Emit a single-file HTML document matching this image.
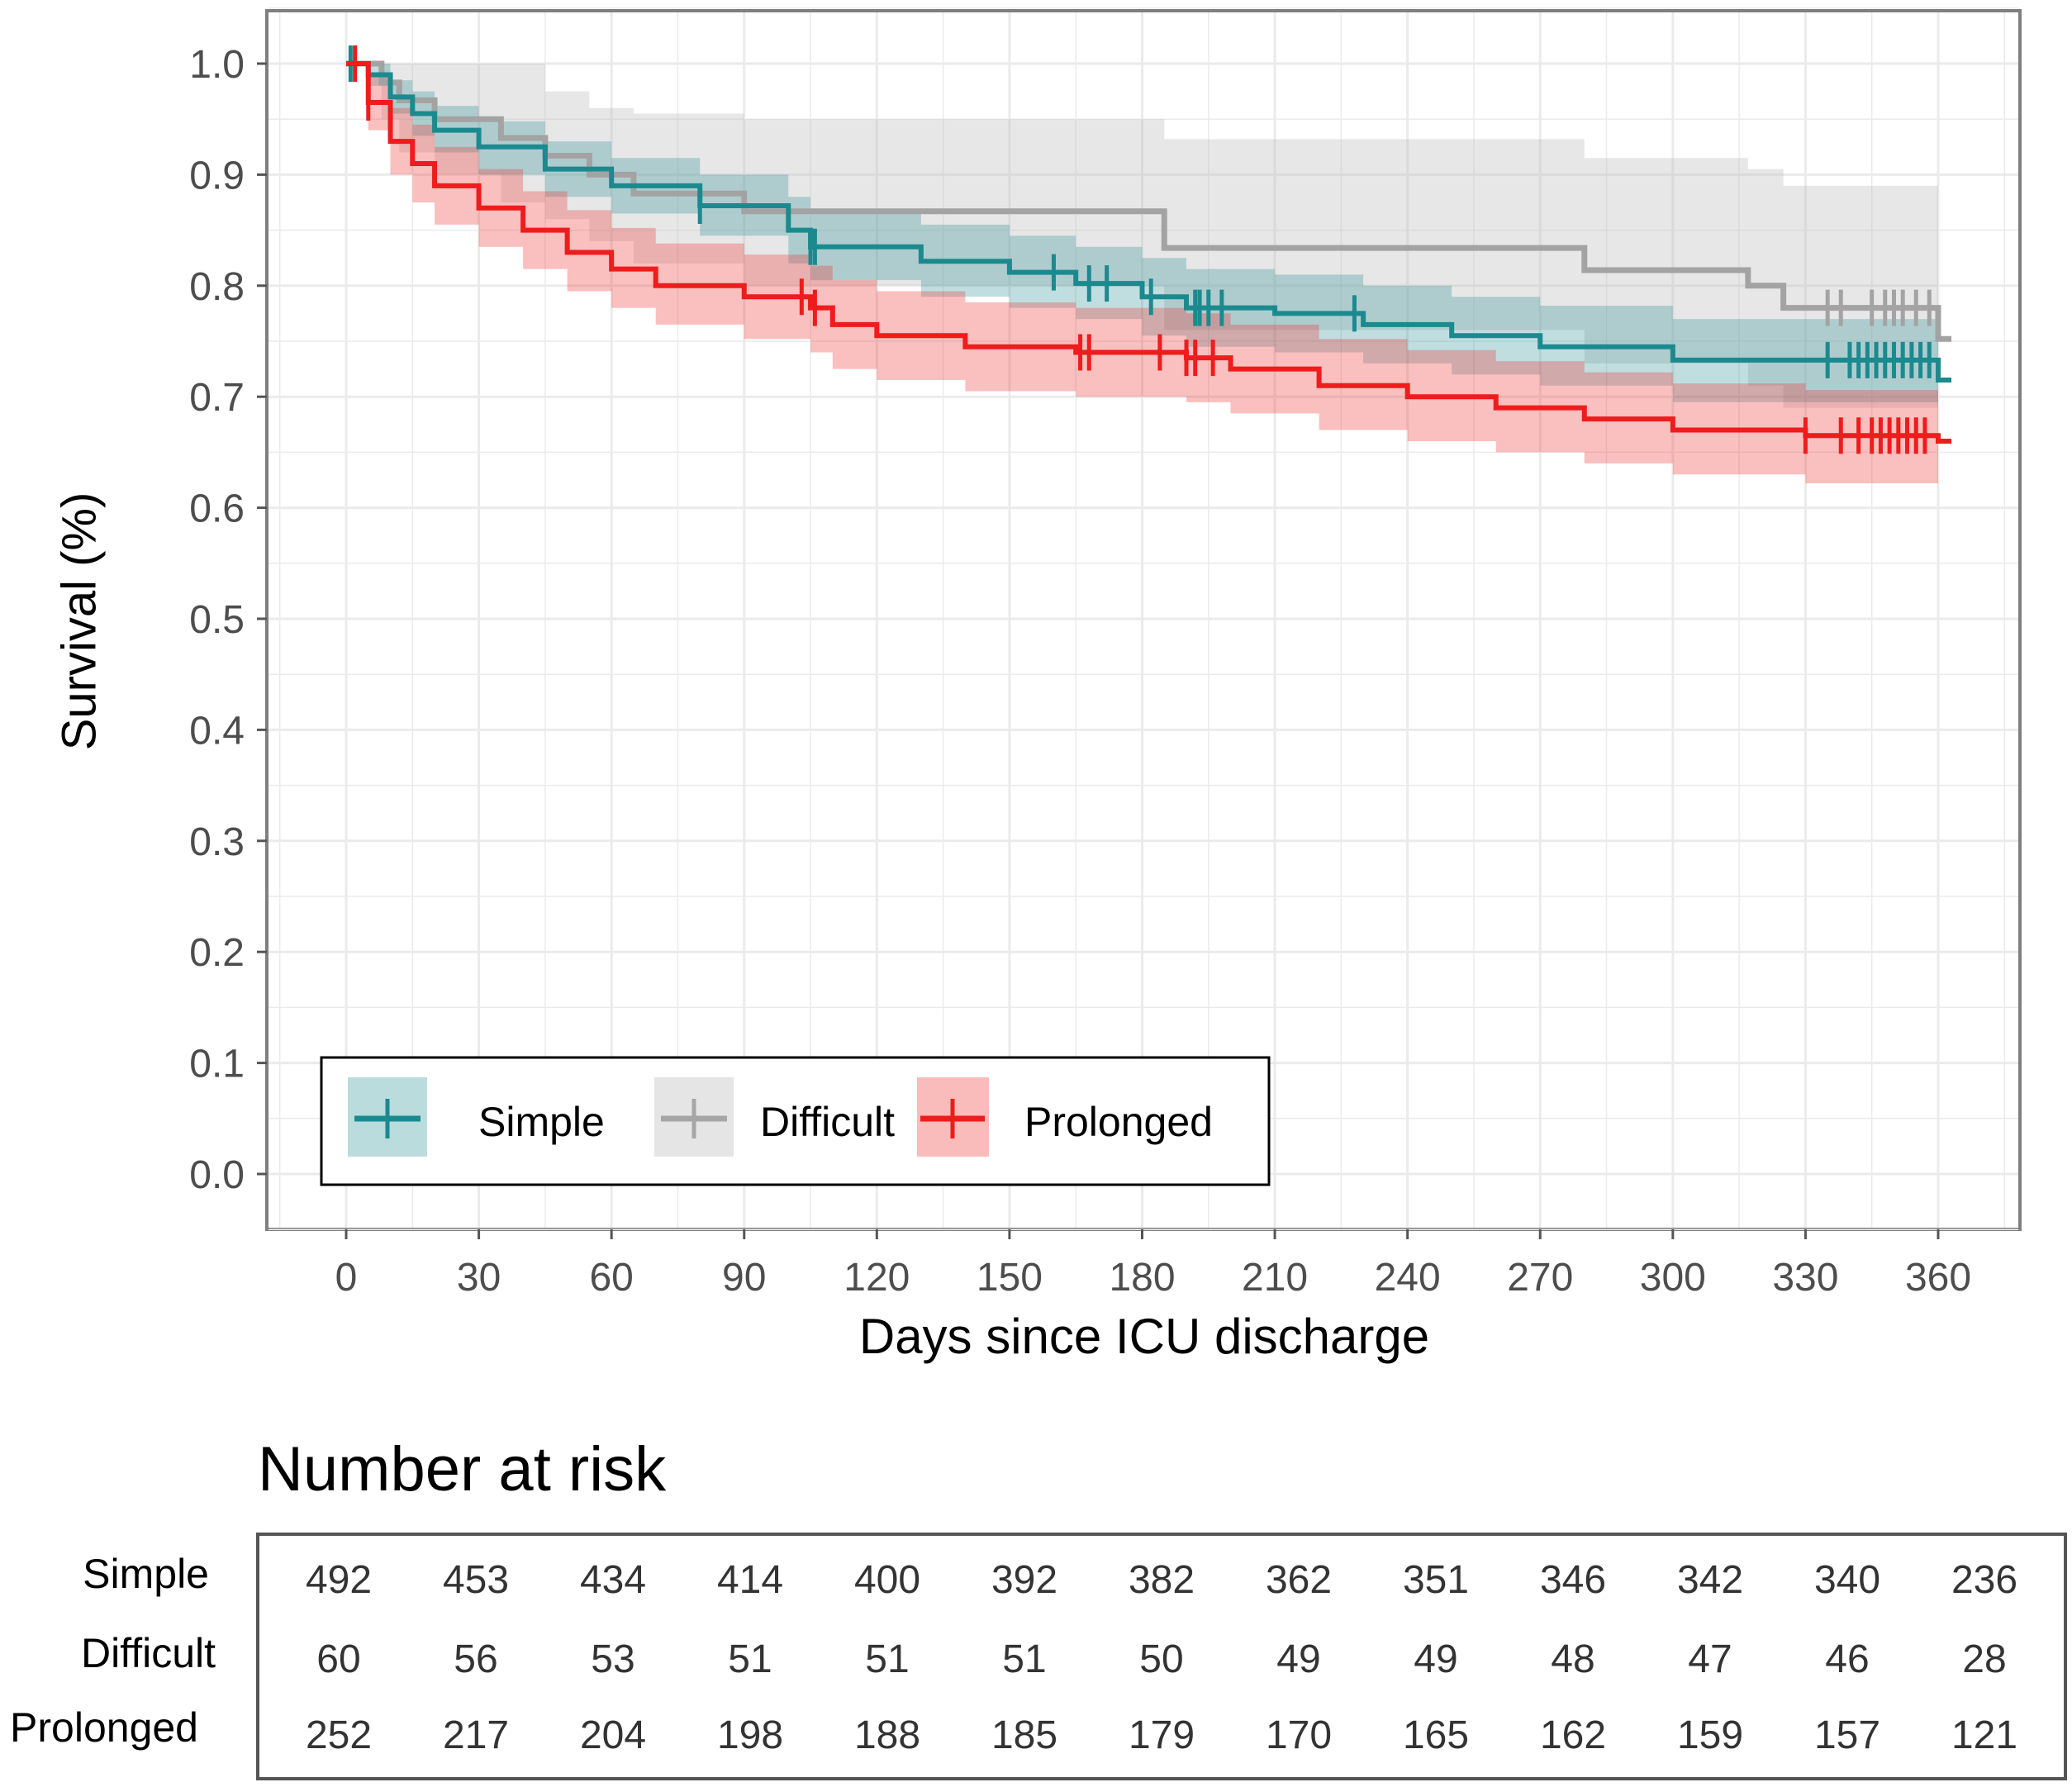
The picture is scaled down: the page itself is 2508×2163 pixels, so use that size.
<!DOCTYPE html>
<html><head><meta charset="utf-8">
<style>
html,body{margin:0;padding:0;background:#fff;}
svg{display:block;font-family:"Liberation Sans",Arial,sans-serif;}
</style></head>
<body>
<svg id="chart" width="2508" height="2163" viewBox="0 0 2508 2163">
<rect x="323" y="13" width="2122" height="1475" fill="#fff" stroke="#7f7f7f" stroke-width="4"/>
<g id="grid"></g>
<g id="bands"></g>
<g id="lines"></g>
<g id="yticks"></g>
<g id="xticks"></g>
<text x="96" y="752" transform="rotate(-90 96 752)" text-anchor="middle" dominant-baseline="central" font-size="58" fill="#000">Survival (%)</text>
<text x="1385" y="1638" text-anchor="middle" font-size="60" fill="#000">Days since ICU discharge</text>
<g>
<rect x="389" y="1280" width="1147" height="154" fill="#fff" stroke="#000" stroke-width="3"/>
<g>
<rect x="421" y="1304" width="96" height="96" fill="rgba(27,138,143,0.3)"/>
<line x1="429" y1="1354" x2="509" y2="1354" stroke="#1b8a8f" stroke-width="7"/>
<line x1="469" y1="1330" x2="469" y2="1378" stroke="#1b8a8f" stroke-width="5"/>
<text x="579" y="1375" font-size="50">Simple</text></g>
<g>
<rect x="792" y="1304" width="96" height="96" fill="rgba(190,190,190,0.4)"/>
<line x1="800" y1="1354" x2="880" y2="1354" stroke="#a6a6a6" stroke-width="7"/>
<line x1="840" y1="1330" x2="840" y2="1378" stroke="#a6a6a6" stroke-width="5"/>
<text x="920" y="1375" font-size="50">Difficult</text></g>
<g>
<rect x="1110" y="1304" width="87" height="96" fill="rgba(240,60,60,0.35)"/>
<line x1="1114" y1="1354" x2="1192" y2="1354" stroke="#ee1c1c" stroke-width="7"/>
<line x1="1153" y1="1330" x2="1153" y2="1378" stroke="#ee1c1c" stroke-width="5"/>
<text x="1240" y="1375" font-size="50">Prolonged</text></g>
</g>
<text x="312" y="1804" font-size="76" fill="#000">Number at risk</text>
<rect x="312" y="1857" width="2188" height="296" fill="#fff" stroke="#555" stroke-width="4"/>
<g id="risk"></g>
</svg>
<script>
// ---- data ----
const simpleT  = [0,5,10,15,20,30,45,60,80,100,105,130,150,165,180,190,210,230,250,270,300,360];
const simpleS  = [1,0.99,0.97,0.955,0.94,0.925,0.905,0.89,0.872,0.85,0.835,0.822,0.812,0.802,0.79,0.78,0.775,0.765,0.755,0.745,0.733,0.715];
const simpleLo = [1,0.98,0.955,0.935,0.92,0.9,0.88,0.865,0.845,0.82,0.805,0.79,0.78,0.77,0.755,0.745,0.74,0.73,0.72,0.71,0.695,0.68];
const simpleHi = [1,1,0.985,0.975,0.962,0.948,0.93,0.915,0.9,0.88,0.865,0.855,0.845,0.835,0.825,0.815,0.81,0.8,0.79,0.782,0.77,0.755];
const simpleCens = [1,80,105,106,160,168,172,182,192,193,195,198,228,335,340,342,344,346,348,350,352,354,356,358];

const diffT  = [0,8,12,20,35,45,55,65,90,185,280,317,325,360];
const diffS  = [1,0.983,0.967,0.95,0.933,0.917,0.9,0.883,0.867,0.834,0.814,0.8,0.78,0.752];
const diffLo = [1,0.95,0.92,0.9,0.875,0.86,0.84,0.82,0.8,0.76,0.73,0.71,0.69,0.66];
const diffHi = [1,1,1,1,1,0.975,0.96,0.955,0.95,0.932,0.915,0.905,0.89,0.875];
const diffCens = [2,335,338,345,348,350,352,355,358];

const proT  = [0,5,10,15,20,30,40,50,60,70,90,105,110,120,140,165,190,200,220,240,260,280,300,330,360];
const proS  = [1,0.965,0.93,0.91,0.89,0.87,0.85,0.83,0.815,0.8,0.79,0.78,0.765,0.755,0.745,0.74,0.735,0.725,0.71,0.7,0.69,0.68,0.67,0.665,0.66];
const proLo = [1,0.94,0.9,0.875,0.855,0.835,0.815,0.795,0.78,0.765,0.752,0.74,0.725,0.715,0.705,0.7,0.695,0.685,0.67,0.66,0.65,0.64,0.63,0.622,0.61];
const proHi = [1,0.99,0.96,0.945,0.925,0.905,0.885,0.868,0.852,0.838,0.828,0.818,0.805,0.795,0.785,0.78,0.775,0.765,0.752,0.742,0.732,0.722,0.712,0.706,0.7];
const proCens = [2,5,103,106,166,168,184,190,192,196,330,338,342,345,347,349,351,353,355,357];

const xTicks = [0,30,60,90,120,150,180,210,240,270,300,330,360];
const yTicks = [0,0.1,0.2,0.3,0.4,0.5,0.6,0.7,0.8,0.9,1.0];
const riskSimple = [492,453,434,414,400,392,382,362,351,346,342,340,236];
const riskDifficult = [60,56,53,51,51,51,50,49,49,48,47,46,28];
const riskProlonged = [252,217,204,198,188,185,179,170,165,162,159,157,121];

// ---- scales ----
const X = d => 419 + d*(2346-419)/360;
const Y = s => 1421 - s*1344;
const NS='http://www.w3.org/2000/svg';
function mk(tag,attrs,parent){const e=document.createElementNS(NS,tag);for(const k in attrs)e.setAttribute(k,attrs[k]);parent.appendChild(e);return e;}
const grid=document.getElementById('grid');
for(let d=-15;d<=375;d+=15){const e=mk('line',{x1:X(d),x2:X(d),y1:15,y2:1486,stroke:'#ebebeb','stroke-width':d%30===0?3:1.5},grid);

}
for(let s=-0.05;s<=1.06;s+=0.05){const e=mk('line',{x1:325,x2:2443,y1:Y(s),y2:Y(s),stroke:'#ebebeb','stroke-width':Math.round(s*20)%2===0?3:1.5},grid);

}
function stepPts(T,S,end){let p=[];for(let i=0;i<T.length;i++){if(i>0)p.push([X(T[i]),Y(S[i-1])]);p.push([X(T[i]),Y(S[i])]);}p.push([X(end),Y(S[S.length-1])]);return p;}
function sAt(T,S,t){let v=S[0];for(let i=0;i<T.length;i++)if(T[i]<=t)v=S[i];return v;}
const bands=document.getElementById('bands'),lines=document.getElementById('lines');
const series=[
 ['simple',simpleT,simpleS,simpleLo,simpleHi,simpleCens,'#1b8a8f','rgba(27,138,143,0.28)',363,6],
 ['difficult',diffT,diffS,diffLo,diffHi,diffCens,'#a3a3a3','rgba(185,185,185,0.35)',363,7],
 ['prolonged',proT,proS,proLo,proHi,proCens,'#ee1c1c','rgba(240,60,60,0.33)',363,6]];
const order=[1,0,2];
order.forEach(i=>{const [n,T,S,Lo,Hi,C,col,fill,end]=series[i];
 const up=stepPts(T,Hi,360),lo=stepPts(T,Lo,360).reverse();
 const b=mk('polygon',{points:up.concat(lo).map(p=>p.join(',')).join(' '),fill:fill},bands);
 
 });
order.forEach(i=>{const [n,T,S,Lo,Hi,C,col,fill,end,w]=series[i];
 const g=mk('g',{},lines);
 
 
 mk('polyline',{points:stepPts(T,S,end).map(p=>p.join(',')).join(' '),fill:'none',stroke:col,'stroke-width':w},g);
 C.forEach(t=>{const y=Y(sAt(T,S,t));const m=mk('line',{x1:X(t),x2:X(t),y1:y-22,y2:y+22,stroke:col,'stroke-width':5},g);
 
 });});
const yt=document.getElementById('yticks');
yTicks.forEach(v=>{const t=mk('text',{x:296,y:Y(v)+17,'text-anchor':'end','font-size':48,fill:'#4d4d4d'},yt);t.textContent=v.toFixed(1);
 
 
 mk('line',{x1:311,x2:323,y1:Y(v),y2:Y(v),stroke:'#555','stroke-width':3},yt);});
const xt=document.getElementById('xticks');
xTicks.forEach(v=>{const t=mk('text',{x:X(v),y:1562,'text-anchor':'middle','font-size':48,fill:'#4d4d4d'},xt);t.textContent=v;
 
 
 mk('line',{x1:X(v),x2:X(v),y1:1488,y2:1500,stroke:'#555','stroke-width':3},xt);});
const risk=document.getElementById('risk');
const rows=[['Simple',riskSimple,253,1922],['Difficult',riskDifficult,261,2018],['Prolonged',riskProlonged,240,2108]];
const rowY=[1928,2024,2116];
rows.forEach((r,j)=>{const l=mk('text',{x:r[2],y:r[3],'text-anchor':'end','font-size':50,fill:'#000'},risk);l.textContent=r[0];
 
 
 r[1].forEach((v,i)=>{const t=mk('text',{x:410+i*166,y:rowY[j],'text-anchor':'middle','font-size':48,fill:'#333'},risk);t.textContent=v;
 
 });});
</script>
</body></html>
